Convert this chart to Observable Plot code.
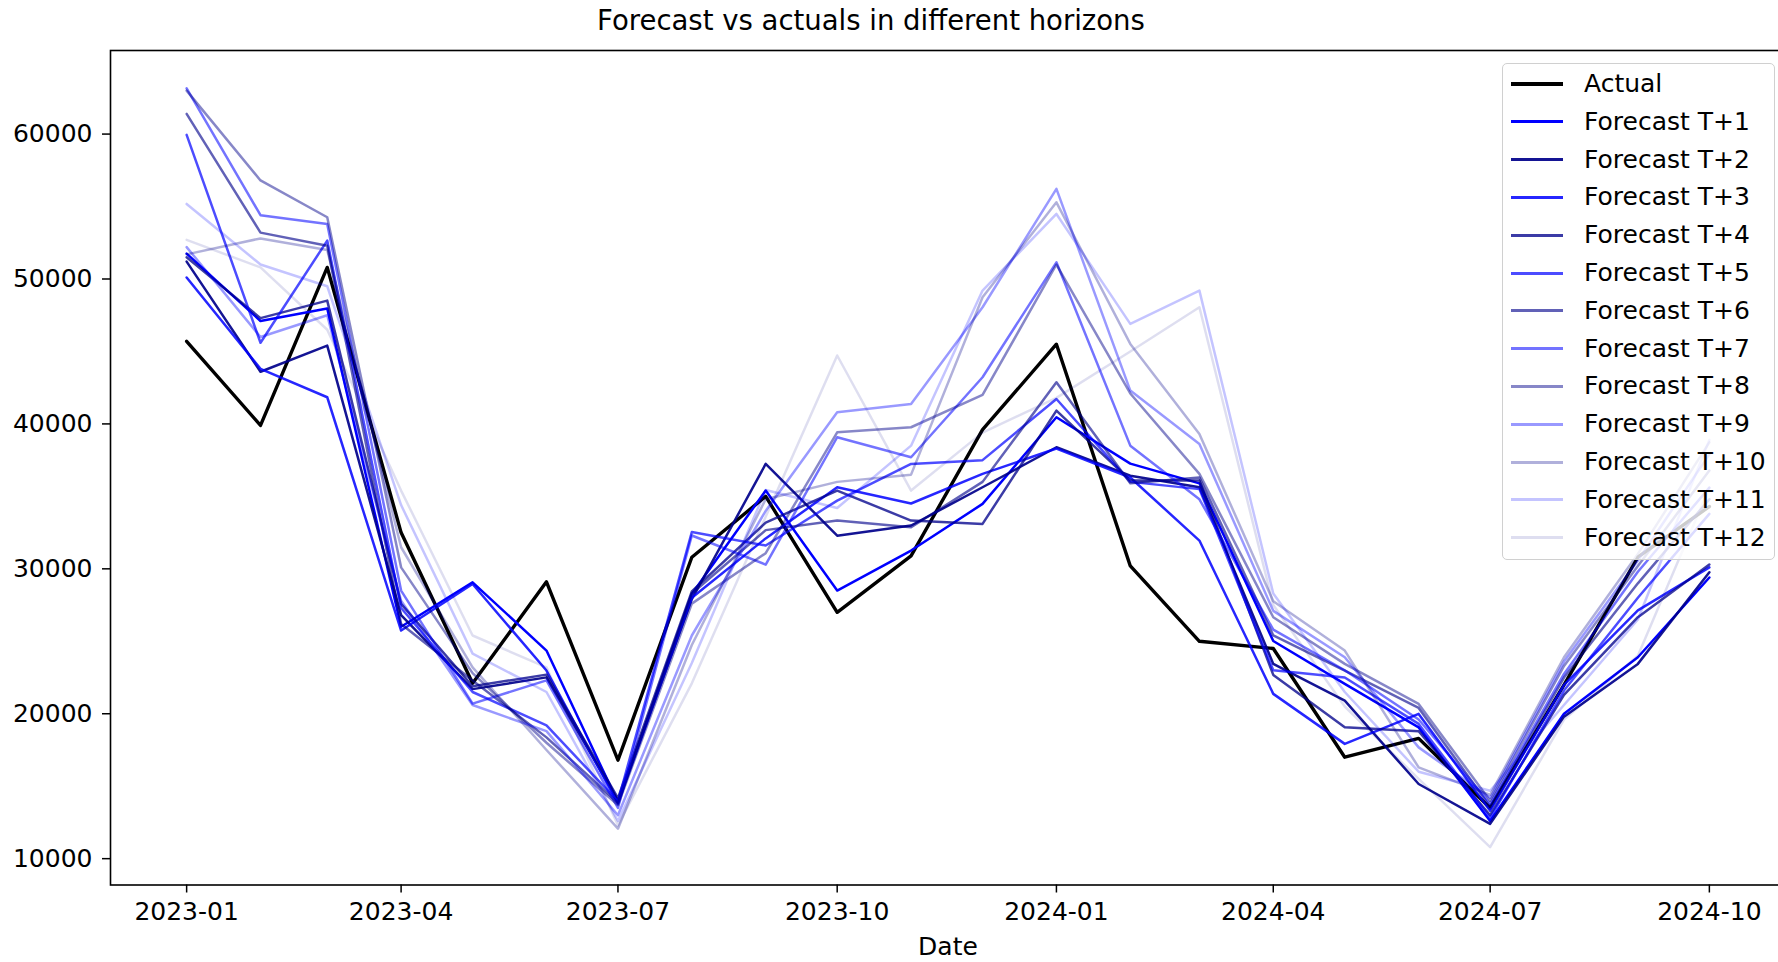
<!DOCTYPE html>
<html><head><meta charset="utf-8">
<script src="https://cdn.jsdelivr.net/npm/d3@7"></script>
<script src="https://cdn.jsdelivr.net/npm/@observablehq/plot@0.6"></script>
<style>
html,body{margin:0;padding:0;background:#fff;overflow:hidden;}
#wrap{position:relative;width:1778px;height:962px;overflow:hidden;font-family:"DejaVu Sans",sans-serif;color:#000;}
#title{position:absolute;top:0;left:0;width:1742px;text-align:center;font-size:27.5px;line-height:40px;}
#xlabel{position:absolute;top:932px;left:0;width:1896px;text-align:center;font-size:25px;line-height:30px;}
#legend{position:absolute;left:1502px;top:63px;width:273px;height:497px;border:1.5px solid #d0d0d0;border-radius:5px;background:rgba(255,255,255,0.8);box-sizing:border-box;}
.row{position:absolute;left:0;height:30px;width:100%;}
.sw{position:absolute;left:8px;width:52px;}
.lt{position:absolute;left:81px;font-size:25px;line-height:30px;top:0;white-space:nowrap;}
#chart{position:absolute;left:0;top:0;}
#chart svg{max-width:none !important;}
</style></head>
<body>
<div id="wrap">
  <div id="chart"></div>
  <div id="title">Forecast vs actuals in different horizons</div>
  <div id="xlabel">Date</div>
  <div id="legend"></div>
</div>
<script>
const months = ["2023-01","2023-02","2023-03","2023-04","2023-05","2023-06","2023-07","2023-08","2023-09","2023-10","2023-11","2023-12",
                "2024-01","2024-02","2024-03","2024-04","2024-05","2024-06","2024-07","2024-08","2024-09","2024-10"];
const tickMonths = ["2023-01","2023-04","2023-07","2023-10","2024-01","2024-04","2024-07","2024-10"];
const yTicks = [10000,20000,30000,40000,50000,60000];

const actual = [45700,39900,50800,32500,22100,29100,16800,30800,35000,27000,30900,39600,45500,30200,25000,24500,17000,18300,13500,22000,30800,34300];

const t1  = [51750,47100,47960,26000,29070,24360,13900,28270,35400,28500,31260,34480,40460,37260,35900,25020,22060,19060,12600,20000,23900,29400];
const t2  = [51200,43600,45400,26800,21700,22510,14000,27910,37240,32290,32990,35630,38390,36430,35630,23440,20900,15150,12400,19800,23440,29760];
const t3  = [50100,43800,41840,25740,28950,22980,13800,28000,32100,35630,34510,36550,38300,36300,31950,21370,17920,19990,13300,22000,27130,30100];
const t4  = [51500,47300,48510,27580,21900,22700,14180,28440,33190,35400,33330,33100,40920,36100,36100,22680,19060,18800,13000,21300,26660,30300];
const t5  = [59950,45600,52650,27300,21500,19200,13950,32540,31610,34710,37240,37500,41720,36000,35500,23000,22500,19300,12800,21600,28000,33790];
const t6  = [61390,53200,52300,26200,22300,18370,13850,28300,32670,33330,32870,36000,42870,35900,36300,25400,22980,20400,13600,22500,29000,34800];
const t7  = [63150,54400,53800,28500,20700,22300,13500,32300,30290,39080,37700,43220,51150,38500,34800,25800,23000,19600,13800,22750,29800,35600];
const t8  = [63000,56800,54260,30100,22800,18000,13700,27600,31080,39420,39770,42000,51000,42100,36550,26660,23440,20680,14000,23300,30200,36780];
const t9  = [52200,46000,47500,27800,20600,18800,13000,25400,34000,40800,41380,48050,56220,42300,38620,27100,23900,17680,14200,23600,30570,37900];
const t10 = [51700,52800,52000,31490,23200,17500,12070,24740,34800,36000,36500,48740,55290,45520,39310,27760,24360,16300,14400,23900,31030,38730];
const t11 = [55180,51000,49500,34400,24150,21500,12600,23500,35440,34200,38500,49200,54490,46900,49200,28300,21500,16000,14690,20600,26500,38900];
const t12 = [52700,50800,46500,35400,25400,23200,12300,22100,33600,44720,35400,39400,41800,45000,48050,27500,20500,15500,10800,19600,24000,35600];

const forecasts = [t1,t2,t3,t4,t5,t6,t7,t8,t9,t10,t11,t12];
const horizonNames = forecasts.map((_, i) => `Forecast T+${i + 1}`);
const opacities = [1, 0.92, 0.85, 0.77, 0.7, 0.62, 0.55, 0.47, 0.4, 0.31, 0.23, 0.13];
const colorOf = i => (i % 2 === 0 ? "#0000ff" : "#00008b");

const parse = d3.utcParse("%Y-%m");
const dates = months.map(parse);
const actualRows = dates.map((d, i) => ({date: d, value: actual[i]}));
const forecastRows = forecasts.map(arr => dates.map((d, i) => ({date: d, value: arr[i]})));

// matplotlib-like 5% margins
const t0 = dates[0].getTime(), tN = dates[dates.length - 1].getTime();
const padT = (tN - t0) * 0.05;
const yMin = d3.min([actual, ...forecasts].flat()), yMax = d3.max([actual, ...forecasts].flat());
const padY = (yMax - yMin) * 0.05;

const marks = [
  Plot.line(actualRows, {x: "date", y: "value", stroke: "black", strokeWidth: 3.4}),
  ...forecastRows.map((rows, i) =>
    Plot.line(rows, {x: "date", y: "value", stroke: colorOf(i), strokeOpacity: opacities[i], strokeWidth: 2.5})),
  Plot.frame({stroke: "black", strokeWidth: 1.6}),
  Plot.axisY({ticks: yTicks, tickSize: 8, tickPadding: 10, fontSize: 25, tickFormat: d => String(d), label: null, strokeWidth: 1.5}),
  Plot.axisX({ticks: tickMonths.map(parse), tickSize: 8, tickPadding: 9, fontSize: 25, tickFormat: d3.utcFormat("%Y-%m"), label: null, strokeWidth: 1.5})
];

const chart = Plot.plot({
  width: 1790, height: 962,
  marginLeft: 110, marginRight: 5, marginTop: 50, marginBottom: 77.5,
  style: {fontFamily: "DejaVu Sans, sans-serif", fontSize: "25px", color: "#000", background: "#fff", maxWidth: "none"},
  x: {type: "utc", domain: [new Date(t0 - padT), new Date(tN + padT)]},
  y: {domain: [yMin - padY, yMax + padY]},
  marks
});
chart.style.maxWidth = "none";
document.getElementById("chart").appendChild(chart);

// legend
const legend = document.getElementById("legend");
const items = [{name: "Actual", color: "black", opacity: 1, w: 4}]
  .concat(horizonNames.map((n, i) => ({name: n, color: colorOf(i), opacity: opacities[i], w: 3})));
items.forEach((it, i) => {
  const row = document.createElement("div");
  row.className = "row";
  row.style.top = (5 + i * 37.8) + "px";
  const sw = document.createElement("div");
  sw.className = "sw";
  sw.style.top = (15 - it.w / 2) + "px";
  sw.style.height = it.w + "px";
  sw.style.background = it.color;
  sw.style.opacity = it.opacity;
  const lt = document.createElement("div");
  lt.className = "lt";
  lt.textContent = it.name;
  row.appendChild(sw); row.appendChild(lt);
  legend.appendChild(row);
});
</script>
</body></html>
